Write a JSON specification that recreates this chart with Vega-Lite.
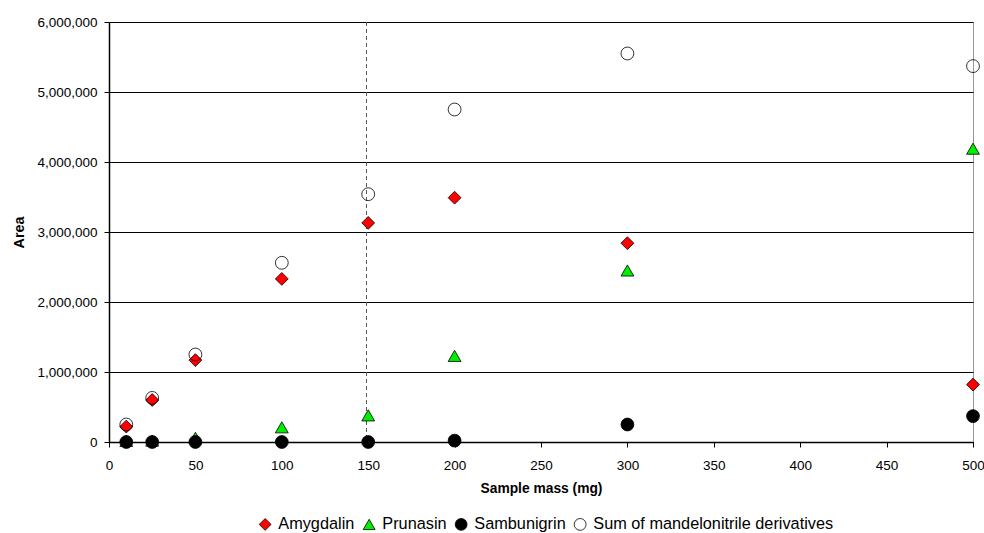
{
  "$schema": "https://vega.github.io/schema/vega-lite/v6.json",
  "width": 864,
  "height": 420,
  "autosize": "none",
  "padding": {"left": 109, "top": 22, "right": 11, "bottom": 91},
  "background": "white",
  "config": {
    "font": "Liberation Sans",
    "view": {"stroke": "#999999", "strokeWidth": 1},
    "legend": {
      "orient": "none",
      "direction": "horizontal",
      "legendX": 148,
      "legendY": 494,
      "labelFontSize": 16.3,
      "labelColor": "black",
      "labelLimit": 400,
      "symbolSize": 140,
      "symbolStrokeWidth": 0.8,
      "columnPadding": 6,
      "labelOffset": 5,
      "titleFontSize": 0
    }
  },
  "datasets": {
    "points": [
      {"mass": 10, "series": "Amygdalin", "area": 220000},
      {"mass": 25, "series": "Amygdalin", "area": 600000},
      {"mass": 50, "series": "Amygdalin", "area": 1170000},
      {"mass": 100, "series": "Amygdalin", "area": 2330000},
      {"mass": 150, "series": "Amygdalin", "area": 3130000},
      {"mass": 200, "series": "Amygdalin", "area": 3490000},
      {"mass": 300, "series": "Amygdalin", "area": 2840000},
      {"mass": 500, "series": "Amygdalin", "area": 820000},
      {"mass": 10, "series": "Prunasin", "area": 15000},
      {"mass": 25, "series": "Prunasin", "area": 20000},
      {"mass": 50, "series": "Prunasin", "area": 60000},
      {"mass": 100, "series": "Prunasin", "area": 210000},
      {"mass": 150, "series": "Prunasin", "area": 380000},
      {"mass": 200, "series": "Prunasin", "area": 1230000},
      {"mass": 300, "series": "Prunasin", "area": 2450000},
      {"mass": 500, "series": "Prunasin", "area": 4190000},
      {"mass": 10, "series": "Sambunigrin", "area": 0},
      {"mass": 25, "series": "Sambunigrin", "area": 0},
      {"mass": 50, "series": "Sambunigrin", "area": 0},
      {"mass": 100, "series": "Sambunigrin", "area": 0},
      {"mass": 150, "series": "Sambunigrin", "area": 0},
      {"mass": 200, "series": "Sambunigrin", "area": 20000},
      {"mass": 300, "series": "Sambunigrin", "area": 250000},
      {"mass": 500, "series": "Sambunigrin", "area": 370000},
      {"mass": 10, "series": "Sum of mandelonitrile derivatives", "area": 250000},
      {"mass": 25, "series": "Sum of mandelonitrile derivatives", "area": 630000},
      {"mass": 50, "series": "Sum of mandelonitrile derivatives", "area": 1250000},
      {"mass": 100, "series": "Sum of mandelonitrile derivatives", "area": 2560000},
      {"mass": 150, "series": "Sum of mandelonitrile derivatives", "area": 3540000},
      {"mass": 200, "series": "Sum of mandelonitrile derivatives", "area": 4750000},
      {"mass": 300, "series": "Sum of mandelonitrile derivatives", "area": 5550000},
      {"mass": 500, "series": "Sum of mandelonitrile derivatives", "area": 5370000}
    ],
    "marker": [{"mass": 149}]
  },
  "layer": [
    {
      "data": {"name": "marker"},
      "mark": {"type": "rule", "color": "#555555", "strokeDash": [4, 3], "strokeWidth": 1},
      "encoding": {
        "x": {"field": "mass", "type": "quantitative", "scale": {"domain": [0, 500]}}
      }
    },
    {
      "data": {"name": "points"},
      "mark": {"type": "point", "filled": true, "strokeWidth": 0.8, "size": 165, "opacity": 1},
      "encoding": {
        "x": {
          "field": "mass", "type": "quantitative",
          "scale": {"domain": [0, 500], "nice": false},
          "title": "Sample mass (mg)",
          "axis": {
            "values": [0, 50, 100, 150, 200, 250, 300, 350, 400, 450, 500],
            "grid": false,
            "labelFlush": false,
            "domainColor": "black", "domainWidth": 1.5,
            "tickColor": "black", "tickSize": 5,
            "labelFontSize": 13.5, "labelColor": "black", "labelPadding": 11,
            "titleFontSize": 13.8, "titleFontWeight": "bold", "titleColor": "black", "titlePadding": 10
          }
        },
        "y": {
          "field": "area", "type": "quantitative",
          "scale": {"domain": [0, 6000000], "nice": false},
          "title": "Area",
          "axis": {
            "values": [0, 1000000, 2000000, 3000000, 4000000, 5000000, 6000000],
            "format": ",d",
            "grid": true, "gridColor": "black", "gridWidth": 1, "gridOpacity": 1,
            "labelFlush": false,
            "domainColor": "black", "domainWidth": 1.5,
            "tickColor": "black", "tickSize": 5,
            "labelFontSize": 13.5, "labelColor": "black", "labelPadding": 7,
            "titleFontSize": 14.3, "titleFontWeight": "bold", "titleColor": "black", "titlePadding": 10
          }
        },
        "fill": {
          "field": "series", "type": "nominal",
          "scale": {
            "domain": ["Amygdalin", "Prunasin", "Sambunigrin", "Sum of mandelonitrile derivatives"],
            "range": ["#ff0000", "#00ee00", "#000000", "transparent"]
          },
          "legend": {"title": null}
        },
        "stroke": {
          "field": "series", "type": "nominal",
          "scale": {
            "domain": ["Amygdalin", "Prunasin", "Sambunigrin", "Sum of mandelonitrile derivatives"],
            "range": ["#000000", "#000000", "#000000", "#000000"]
          },
          "legend": {"title": null}
        },
        "shape": {
          "field": "series", "type": "nominal",
          "scale": {
            "domain": ["Amygdalin", "Prunasin", "Sambunigrin", "Sum of mandelonitrile derivatives"],
            "range": ["diamond", "triangle-up", "circle", "circle"]
          },
          "legend": {"title": null}
        }
      }
    }
  ]
}
